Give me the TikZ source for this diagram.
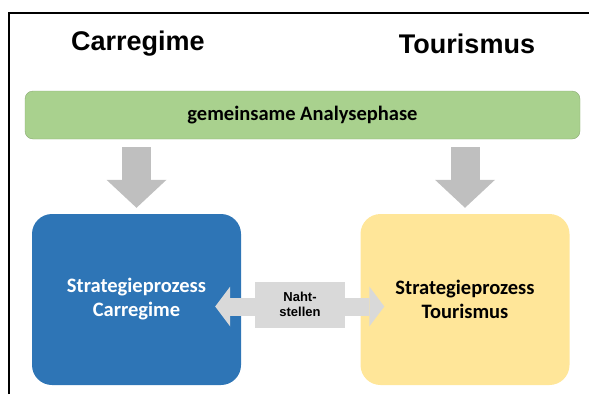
\documentclass[tikz,border=0pt]{standalone}
\usepackage{fontspec}
\setmainfont{Carlito}
\newfontfamily\arialfont{Liberation Sans}
\usepackage{xcolor}
\definecolor{carblue}{HTML}{2E75B6}
\definecolor{touryellow}{HTML}{FFE699}
\definecolor{phasegreen}{HTML}{A9D18E}
\definecolor{phaseborder}{HTML}{8BAA74}
\definecolor{downgray}{HTML}{BFBFBF}
\definecolor{seamgray}{HTML}{D9D9D9}
\usetikzlibrary{arrows.meta}
\usetikzlibrary{positioning}
\tikzstyle{heading} = [font=\arialfont\bfseries\fontsize{27}{30}\selectfont, inner sep=0pt]
\tikzstyle{phase} = [rectangle, rounded corners=8pt, draw=phaseborder, fill=phasegreen,
    minimum width=555pt, minimum height=48pt, font=\bfseries\fontsize{20.5}{24}\selectfont]
\tikzstyle{process} = [rectangle, rounded corners=20pt, minimum width=209pt, minimum height=171pt,
    align=center, font=\bfseries\fontsize{20.5}{24}\selectfont]
\tikzstyle{seam} = [rectangle, fill=seamgray, minimum width=90pt, minimum height=46pt,
    align=center, font=\arialfont\bfseries\fontsize{13}{15.5}\selectfont]
\tikzstyle{down} = [draw=downgray, line width=29pt, shorten <=8pt, shorten >=6pt,
    -{Triangle[length=28pt,width=60pt,line width=0pt]}]
\tikzstyle{side} = [draw=seamgray, line width=18pt,
    -{Triangle[length=15pt,width=40pt,line width=0pt]}]

\begin{document}
\begin{tikzpicture}[x=1pt,y=-1pt]
    \useasboundingbox (0,0) rectangle (589,394);
    % frame
    \draw[line width=2pt] (9,394) -- (9,13) -- (589,13);

    % Place nodes
    \node[heading] (carTitle) at (138,44) {Carregime};
    \node[heading] (tourTitle) at (467,44) {Tourismus};
    \node[phase] (analyse) at (302.5,115) {gemeinsame Analysephase};
    \node[process, fill=carblue, text=white] (carProc) at (136.5,299.5) {Strategieprozess\\Carregime};
    \node[process, fill=touryellow] (tourProc) at (465,299.5) {Strategieprozess\\Tourismus};
    \node[seam] (naht) at (300,304.5) {Naht-\\stellen};

    % Draw edges
    \draw[down] (analyse.south -| carProc.north) -- (carProc.north);
    \draw[down] (analyse.south -| tourProc.north) -- (tourProc.north);
    \draw[side, shorten >=-26pt] ([yshift=-2pt]naht.west) -- ([yshift=-2pt]naht.west -| carProc.east);
    \draw[side, shorten >=-24pt] ([yshift=-2pt]naht.east) -- ([yshift=-2pt]naht.east -| tourProc.west);
\end{tikzpicture}
\end{document}
